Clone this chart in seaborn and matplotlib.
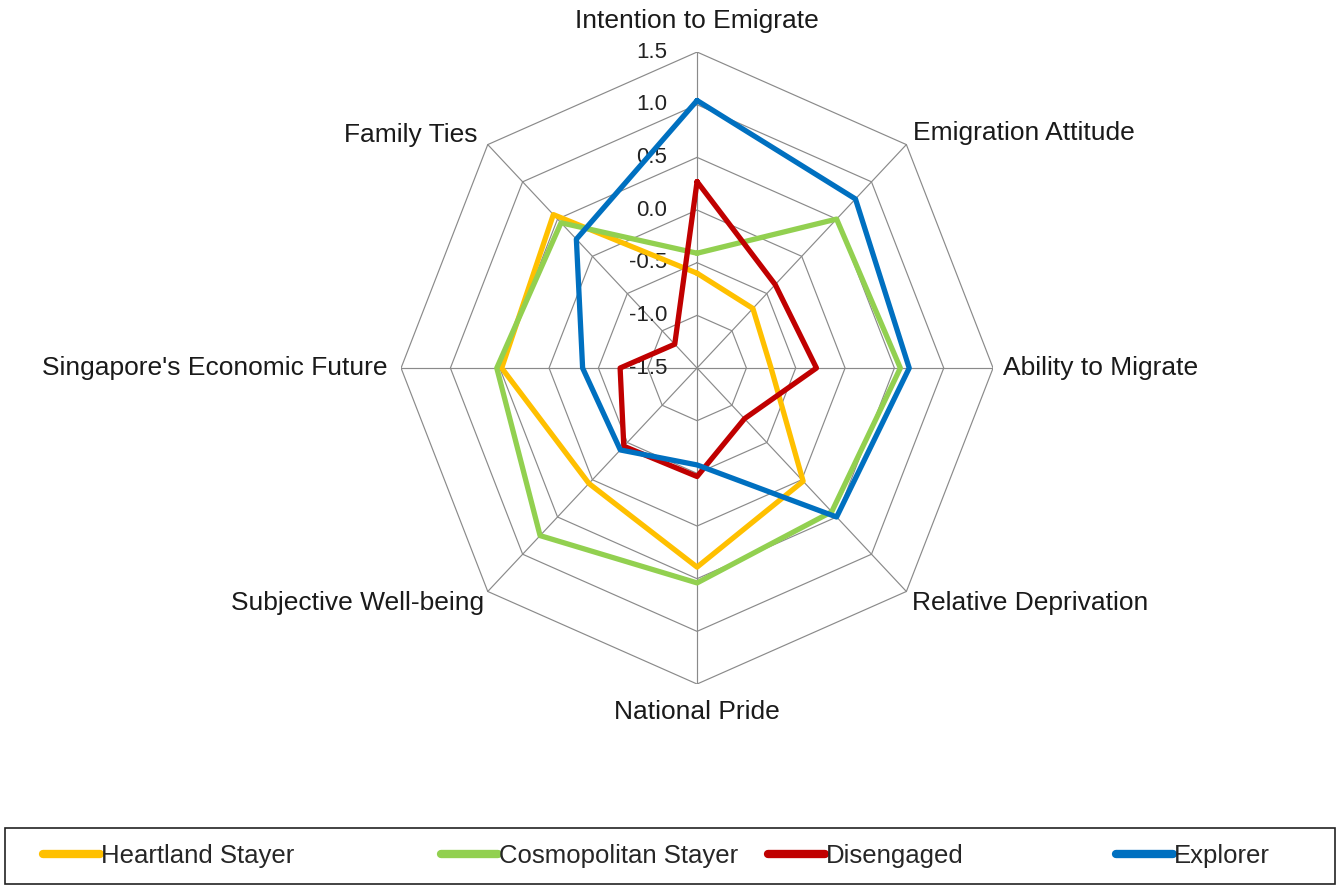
import numpy as np
import pandas as pd
import matplotlib.pyplot as plt
from matplotlib.patches import Rectangle
import seaborn as sns

# spoke labels, clockwise from the top
categories = ["Intention to Emigrate", "Emigration Attitude", "Ability to Migrate",
              "Relative Deprivation", "National Pride", "Subjective Well-being",
              "Singapore's Economic Future", "Family Ties"]

groups = ["Heartland Stayer", "Cosmopolitan Stayer", "Disengaged", "Explorer"]
heartland = [-0.60, -0.70, -0.75, 0.02, 0.39, 0.05, 0.48, 0.56]
cosmopolitan = [-0.41, 0.50, 0.56, 0.43, 0.54, 0.75, 0.53, 0.45]
disengaged = [0.27, -0.38, -0.29, -0.82, -0.47, -0.45, -0.72, -1.18]
explorer = [1.04, 0.77, 0.65, 0.50, -0.58, -0.40, -0.34, 0.23]

ticks = [-1.5, -1.0, -0.5, 0.0, 0.5, 1.0, 1.5]
colors = ["#FFC000", "#92D050", "#C00000", "#0070C0"]

sns.set_theme(style="white")
plt.rcParams["font.family"] = ["Liberation Sans", "DejaVu Sans"]

vmin, vmax = ticks[0], ticks[-1]
n = len(categories)
angles = np.arange(n) * 2 * np.pi / n


def to_xy(values):
    r = (np.asarray(values) - vmin) / (vmax - vmin)
    return r * np.sin(angles), r * np.cos(angles)


# long table, polygon closed by repeating the first point
rows = []
for name, vals in zip(groups, [heartland, cosmopolitan, disengaged, explorer]):
    x, y = to_xy(vals)
    for i in list(range(n)) + [0]:
        rows.append({"group": name, "x": x[i], "y": y[i]})
df = pd.DataFrame(rows)

fig = plt.figure(figsize=(13.4, 8.88), dpi=100)
ax = fig.add_axes([0.2993, 0.2297, 0.4418, 0.7117])
ax.set_xlim(-1, 1)
ax.set_ylim(-1, 1)
ax.axis("off")

# octagon grid + spokes
grid_col = "#8a8a8a"
for t in ticks[1:]:
    gx, gy = to_xy([t] * n)
    ax.plot(np.append(gx, gx[0]), np.append(gy, gy[0]), color=grid_col, lw=0.85, zorder=1)
ox, oy = to_xy([vmax] * n)
for i in range(n):
    ax.plot([0, ox[i]], [0, oy[i]], color=grid_col, lw=0.85, zorder=1)

# scale labels along the top spoke
for t in ticks:
    r = (t - vmin) / (vmax - vmin)
    ax.annotate(f"{t:.1f}", xy=(0, r), xytext=(-30, 0), textcoords="offset pixels",
                ha="right", va="center", fontsize=16, color="#222222", zorder=2)

# category labels
offsets = [(0, 31, "center"), (7, 12, "left"), (10, 0, "left"), (6, -12, "left"),
           (0, -28, "center"), (-4, -12, "right"), (-14, 0, "right"), (-10, 10, "right")]
for i, cat in enumerate(categories):
    dx, dy, ha = offsets[i]
    ax.annotate(cat, xy=(ox[i], oy[i]), xytext=(dx, dy), textcoords="offset pixels",
                ha=ha, va="center", fontsize=19, color="#1a1a1a")

sns.lineplot(data=df, x="x", y="y", hue="group", hue_order=groups, palette=colors,
             sort=False, estimator=None, linewidth=3.8, ax=ax, zorder=3)

handles, labels = ax.get_legend_handles_labels()
ax.get_legend().remove()

# legend box along the bottom
fig.patches.append(Rectangle((5 / 1340, 1 - 884 / 888), 1330 / 1340, 56 / 888,
                             transform=fig.transFigure, fill=False, ec="#222222", lw=1.2))
starts = [43, 441, 768, 1116]
for h, lab, xs in zip(handles, labels, starts):
    leg = fig.legend([h], [lab], loc="center left", bbox_to_anchor=(xs / 1340, 1 - 856 / 888),
                     frameon=False, handlelength=2.2, handletextpad=0.05, borderpad=0,
                     borderaxespad=0, prop={"size": 18.5})
    for line in leg.get_lines():
        line.set_linewidth(6)

fig.savefig("out.png", dpi=100)
